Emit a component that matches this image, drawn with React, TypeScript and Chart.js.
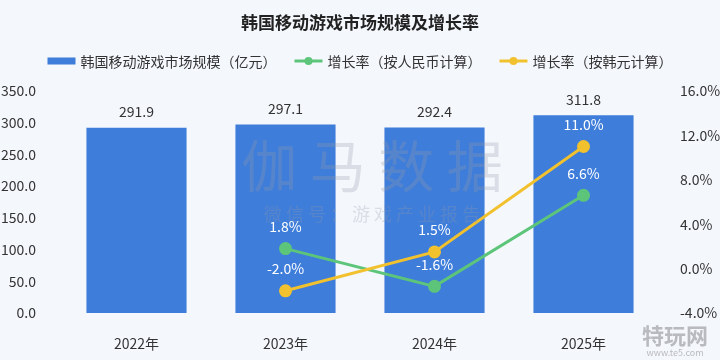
import React, { useEffect, useRef } from "react";
import { Chart, registerables } from "chart.js";

Chart.register(...registerables);

const categories = ["2022年", "2023年", "2024年", "2025年"];
const marketSize = [291.9, 297.1, 292.4, 311.8];
const growthCNY = [null, 1.8, -1.6, 6.6];
const growthKRW = [null, -2.0, 1.5, 11.0];
const leftTicks = [0, 50, 100, 150, 200, 250, 300, 350];
const rightTicks = [-4, 0, 4, 8, 12, 16];

const title = "韩国移动游戏市场规模及增长率";
const seriesNames = ["韩国移动游戏市场规模（亿元）", "增长率（按人民币计算）", "增长率（按韩元计算）"];

const BLUE = "#3E7DDA";
const GREEN = "#5CC57A";
const YELLOW = "#F2C12E";
const BG = "#F4F7FC";
const FONT = "'Noto Sans CJK SC', 'Noto Sans', sans-serif";

const decorPlugin = {
  id: "decor",
  beforeDraw(chart: any) {
    const { ctx, width, height } = chart;
    ctx.save();
    ctx.fillStyle = BG;
    ctx.fillRect(0, 0, width, height);
    ctx.restore();
  },
  afterDatasetsDraw(chart: any) {
    const { ctx } = chart;
    ctx.save();
    // watermark
    ctx.fillStyle = "rgba(150,155,170,0.28)";
    ctx.textAlign = "center";
    ctx.textBaseline = "middle";
    ctx.font = `56px ${FONT}`;
    ctx.fillText("伽 马 数 据", 372, 166);
    ctx.font = `18px ${FONT}`;
    ctx.fillText("微 信 号 ： 游 戏 产 业 报 告", 372, 214);
    ctx.restore();

    // data labels
    ctx.save();
    ctx.textAlign = "center";
    ctx.textBaseline = "middle";
    ctx.font = `14px ${FONT}`;
    chart.data.datasets.forEach((ds: any, di: number) => {
      const meta = chart.getDatasetMeta(di);
      meta.data.forEach((el: any, i: number) => {
        const v = ds.data[i];
        if (v === null || v === undefined) return;
        if (ds.type === "bar") {
          ctx.fillStyle = "#333333";
          ctx.fillText(v.toFixed(1), el.x, el.y - 16);
        } else {
          ctx.fillStyle = "#FFFFFF";
          ctx.fillText(v.toFixed(1) + "%", el.x, el.y - 22);
        }
      });
    });
    ctx.restore();
  },
  afterDraw(chart: any) {
    const { ctx, width } = chart;
    ctx.save();
    // title
    ctx.fillStyle = "#222222";
    ctx.font = `bold 17px ${FONT}`;
    ctx.textAlign = "center";
    ctx.textBaseline = "middle";
    ctx.fillText(title, width / 2, 23);

    // legend
    ctx.font = `14px ${FONT}`;
    ctx.textAlign = "left";
    const colors = [BLUE, GREEN, YELLOW];
    const markerW = 28;
    const gapMarker = 5;
    const gapItem = 18;
    const widths = seriesNames.map((n) => markerW + gapMarker + ctx.measureText(n).width);
    const total = widths.reduce((a, b) => a + b, 0) + gapItem * (widths.length - 1);
    let x = (width - total) / 2;
    const y = 61;
    seriesNames.forEach((n, i) => {
      ctx.fillStyle = colors[i];
      ctx.strokeStyle = colors[i];
      if (i === 0) {
        ctx.fillRect(x, y - 3.5, markerW, 7);
      } else {
        ctx.lineWidth = 3;
        ctx.beginPath();
        ctx.moveTo(x, y);
        ctx.lineTo(x + markerW, y);
        ctx.stroke();
        ctx.beginPath();
        ctx.arc(x + markerW / 2, y, 4, 0, Math.PI * 2);
        ctx.fill();
      }
      ctx.fillStyle = "#333333";
      ctx.fillText(n, x + markerW + gapMarker, y + 1);
      x += widths[i] + gapItem;
    });

    // corner logo
    ctx.textAlign = "center";
    ctx.fillStyle = "rgba(170,170,175,0.8)";
    ctx.font = `bold 22px ${FONT}`;
    ctx.fillText("特玩网", 675, 336);
    ctx.font = `9px ${FONT}`;
    ctx.fillText("www.te5.com", 675, 353);
    ctx.restore();
  },
};

export default function App() {
  const ref = useRef<HTMLCanvasElement | null>(null);

  useEffect(() => {
    document.body.style.margin = "0";
    const canvas = ref.current;
    if (!canvas) return;
    const chart = new Chart(canvas, {
      data: {
        labels: categories,
        datasets: [
          {
            type: "line" as const,
            label: seriesNames[1],
            data: growthCNY,
            yAxisID: "y1",
            borderColor: GREEN,
            backgroundColor: GREEN,
            borderWidth: 3,
            pointRadius: 5,
            pointHoverRadius: 5,
            pointBackgroundColor: GREEN,
            pointBorderColor: GREEN,
            tension: 0,
            order: 1,
          },
          {
            type: "line" as const,
            label: seriesNames[2],
            data: growthKRW,
            yAxisID: "y1",
            borderColor: YELLOW,
            backgroundColor: YELLOW,
            borderWidth: 3,
            pointRadius: 5,
            pointHoverRadius: 5,
            pointBackgroundColor: YELLOW,
            pointBorderColor: YELLOW,
            tension: 0,
            order: 0,
          },
          {
            type: "bar" as const,
            label: seriesNames[0],
            data: marketSize,
            yAxisID: "y",
            backgroundColor: BLUE,
            categoryPercentage: 0.8,
            barPercentage: 0.84,
            order: 2,
          },
        ],
      } as any,
      options: {
        responsive: false,
        animation: false,
        layout: { padding: { top: 91, left: 0, right: 0, bottom: 0 } },
        plugins: {
          legend: { display: false },
          title: { display: false },
          tooltip: { enabled: false },
        },
        scales: {
          x: {
            grid: { display: false },
            border: { display: false },
            ticks: { color: "#333333", font: { family: FONT, size: 14 }, padding: 14 },
            afterFit(s: any) {
              s.height = 47;
            },
          },
          y: {
            position: "left",
            min: 0,
            max: 350,
            grid: { display: false },
            border: { display: false },
            afterBuildTicks(s: any) {
              s.ticks = leftTicks.map((v) => ({ value: v }));
            },
            ticks: {
              color: "#333333",
              font: { family: FONT, size: 14 },
              padding: 18,
              callback: (v: any) => Number(v).toFixed(1),
            },
            afterFit(s: any) {
              s.width = 62;
            },
          },
          y1: {
            position: "right",
            min: -4,
            max: 16,
            grid: { display: false },
            border: { display: false },
            afterBuildTicks(s: any) {
              s.ticks = rightTicks.map((v) => ({ value: v }));
            },
            ticks: {
              color: "#333333",
              font: { family: FONT, size: 14 },
              padding: 14,
              callback: (v: any) => Number(v).toFixed(1) + "%",
            },
            afterFit(s: any) {
              s.width = 62;
            },
          },
        },
      } as any,
      plugins: [decorPlugin],
    });
    return () => chart.destroy();
  }, []);

  return (
    <div style={{ width: 720, height: 360, background: BG }}>
      <canvas ref={ref} width={720} height={360} style={{ display: "block" }} />
    </div>
  );
}
